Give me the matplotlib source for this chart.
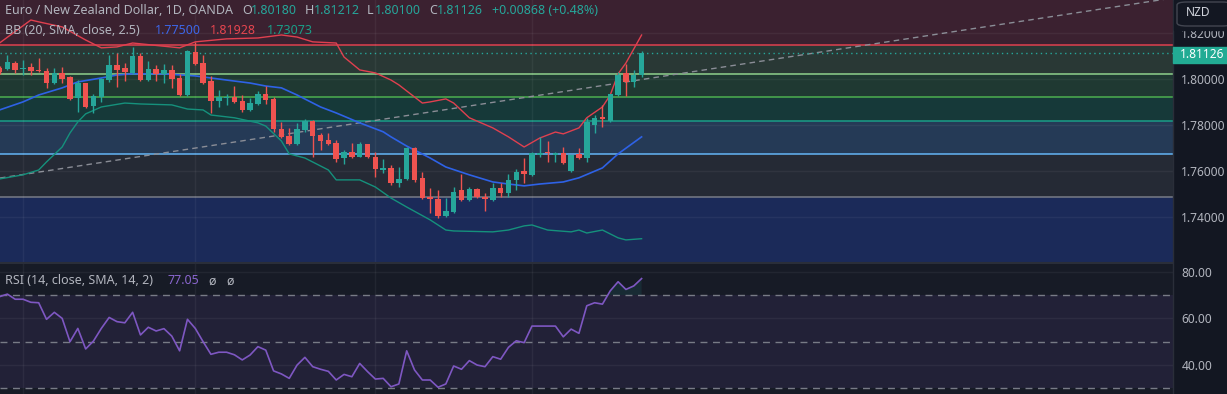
import numpy as np
import matplotlib.pyplot as plt
from matplotlib.patches import Rectangle, FancyBboxPatch
from matplotlib.lines import Line2D

# ---- EUR/NZD daily candles ----
opens = [1.8050, 1.8045, 1.8071, 1.8045, 1.8054, 1.8041, 1.8037, 1.7984, 1.8028, 1.8011,
         1.7919, 1.7984, 1.7884, 1.7924, 1.7997, 1.8063, 1.8050, 1.8028, 1.8102, 1.7997,
         1.8045, 1.8024, 1.8041, 1.8006, 1.7932, 1.8119, 1.8071, 1.7993, 1.7906, 1.7919,
         1.7924, 1.7906, 1.7867, 1.7893, 1.7937, 1.7915, 1.7785, 1.7754, 1.7719, 1.7780,
         1.7820, 1.7759, 1.7737, 1.7724, 1.7658, 1.7684, 1.7663, 1.7719, 1.7663, 1.7606,
         1.7615, 1.7550, 1.7567, 1.7702, 1.7572, 1.7489, 1.7480, 1.7406, 1.7423, 1.7519,
         1.7476, 1.7524, 1.7489, 1.7476, 1.7528, 1.7506, 1.7563, 1.7602, 1.7585, 1.7671,
         1.7684, 1.7671, 1.7680, 1.7602, 1.7676, 1.7658, 1.7802, 1.7837, 1.7820, 1.7932,
         1.8028, 1.7989, 1.8018]
highs = [1.8058, 1.8106, 1.8080, 1.8084, 1.8071, 1.8093, 1.8050, 1.8050, 1.8054, 1.8015,
         1.7997, 1.7986, 1.7937, 1.8006, 1.8106, 1.8115, 1.8071, 1.8141, 1.8115, 1.8080,
         1.8063, 1.8067, 1.8063, 1.8024, 1.8128, 1.8163, 1.8106, 1.8015, 1.7954, 1.7937,
         1.7971, 1.7932, 1.7919, 1.7950, 1.7971, 1.7924, 1.7815, 1.7789, 1.7811, 1.7828,
         1.7824, 1.7767, 1.7767, 1.7737, 1.7693, 1.7724, 1.7728, 1.7719, 1.7684, 1.7654,
         1.7628, 1.7619, 1.7706, 1.7706, 1.7598, 1.7528, 1.7519, 1.7484, 1.7532, 1.7589,
         1.7532, 1.7528, 1.7506, 1.7550, 1.7550, 1.7589, 1.7611, 1.7658, 1.7684, 1.7750,
         1.7732, 1.7684, 1.7706, 1.7671, 1.7702, 1.7833, 1.7845, 1.7889, 1.7937, 1.8032,
         1.8067, 1.8041, 1.81212]
lows = [1.8024, 1.8041, 1.8028, 1.8019, 1.8019, 1.8032, 1.7963, 1.7980, 1.7984, 1.7910,
        1.7858, 1.7876, 1.7854, 1.7902, 1.7989, 1.7967, 1.7993, 1.8024, 1.7993, 1.7993,
        1.7993, 1.7984, 1.7963, 1.7928, 1.7928, 1.8063, 1.7980, 1.7854, 1.7880, 1.7889,
        1.7897, 1.7858, 1.7863, 1.7889, 1.7893, 1.7772, 1.7745, 1.7715, 1.7715, 1.7772,
        1.7663, 1.7693, 1.7715, 1.7641, 1.7632, 1.7658, 1.7663, 1.7658, 1.7576, 1.7593,
        1.7541, 1.7532, 1.7563, 1.7554, 1.7480, 1.7419, 1.7397, 1.7402, 1.7419, 1.7471,
        1.7471, 1.7484, 1.7428, 1.7471, 1.7489, 1.7489, 1.7519, 1.7550, 1.7580, 1.7663,
        1.7641, 1.7641, 1.7632, 1.7598, 1.7654, 1.7641, 1.7767, 1.7793, 1.7815, 1.7928,
        1.7928, 1.7967, 1.8010]
closes = [1.8032, 1.8076, 1.8041, 1.8050, 1.8037, 1.8037, 1.7984, 1.8028, 1.8002, 1.7915,
          1.7984, 1.7880, 1.7928, 1.8002, 1.8063, 1.8041, 1.8032, 1.8102, 1.7997, 1.8045,
          1.8024, 1.8041, 1.8002, 1.7932, 1.8123, 1.8067, 1.7984, 1.7906, 1.7924, 1.7924,
          1.7902, 1.7867, 1.7897, 1.7937, 1.7910, 1.7785, 1.7750, 1.7719, 1.7785, 1.7820,
          1.7754, 1.7732, 1.7719, 1.7654, 1.7684, 1.7663, 1.7719, 1.7663, 1.7611, 1.7615,
          1.7550, 1.7567, 1.7702, 1.7563, 1.7484, 1.7480, 1.7406, 1.7428, 1.7510, 1.7476,
          1.7524, 1.7489, 1.7480, 1.7528, 1.7506, 1.7563, 1.7598, 1.7589, 1.7680, 1.7680,
          1.7678, 1.7680, 1.7637, 1.7671, 1.7658, 1.7815, 1.7833, 1.7828, 1.7937, 1.8019,
          1.7989, 1.8020, 1.81126]

# Bollinger bands (20, 2.5) sampled at candle index
bb_up_idx = [0, 4, 5, 8, 11, 13, 15, 17, 23, 25, 29, 33, 36, 38, 40, 43, 44, 46, 48, 50,
             51, 54, 55, 57, 58, 60, 63, 65, 67, 69, 71, 72, 74, 75, 77, 78, 79, 80, 82]
bb_up = [1.8158, 1.8258, 1.8250, 1.8228, 1.8171, 1.8137, 1.8141, 1.8158, 1.8137, 1.8163,
         1.8176, 1.8180, 1.8193, 1.8184, 1.8163, 1.8158, 1.8097, 1.8041, 1.8028, 1.7997,
         1.7976, 1.7897, 1.7902, 1.7915, 1.7897, 1.7833, 1.7789, 1.7750, 1.7706, 1.7745,
         1.7771, 1.7763, 1.7789, 1.7833, 1.7880, 1.7932, 1.8024, 1.8071, 1.81928]
bb_mid_idx = [0, 3, 5, 8, 10, 13, 15, 17, 21, 25, 27, 29, 32, 34, 36, 38, 41, 43, 46, 49,
              50, 52, 55, 57, 60, 63, 65, 67, 69, 72, 74, 77, 79, 82]
bb_mid = [1.7867, 1.7902, 1.7932, 1.7963, 1.7989, 1.8006, 1.8019, 1.8024, 1.8024, 1.8015,
          1.8006, 1.7997, 1.7984, 1.7971, 1.7963, 1.7932, 1.7880, 1.7854, 1.7811, 1.7772,
          1.7750, 1.7710, 1.7658, 1.7619, 1.7585, 1.7554, 1.7545, 1.7537, 1.7545, 1.7554,
          1.7572, 1.7615, 1.7676, 1.7750]
bb_lo_idx = [0, 3, 5, 6, 8, 9, 10, 11, 13, 16, 18, 22, 24, 26, 27, 30, 33, 34, 36, 37,
             39, 42, 43, 46, 48, 50, 52, 55, 57, 58, 63, 65, 67, 68, 70, 73, 74, 75, 77, 79,
             80, 82]
bb_lo = [1.7567, 1.7585, 1.7606, 1.7641, 1.7706, 1.7767, 1.7815, 1.7850, 1.7880, 1.7897,
         1.7893, 1.7889, 1.7871, 1.7867, 1.7845, 1.7833, 1.7811, 1.7797, 1.7732, 1.7676,
         1.7658, 1.7606, 1.7563, 1.7563, 1.7532, 1.7484, 1.7445, 1.7389, 1.7345, 1.7341,
         1.7337, 1.7345, 1.7363, 1.7367, 1.7345, 1.7337, 1.7345, 1.7332, 1.7345, 1.7311,
         1.7302, 1.73073]

# RSI (14) per candle
rsi = [69.3, 70.4, 68.2, 68.2, 66.9, 66.7, 59.6, 62.6, 60.0, 50.0,
       55.7, 46.9, 50.3, 55.7, 60.4, 58.6, 58.1, 62.6, 52.9, 56.2,
       54.6, 55.6, 52.4, 46.1, 59.6, 55.7, 50.0, 44.6, 45.5, 45.5,
       44.4, 42.2, 44.3, 47.9, 46.4, 37.5, 36.2, 34.3, 40.0, 43.3,
       39.3, 38.2, 37.3, 33.6, 36.0, 35.0, 40.7, 37.2, 34.0, 34.3,
       30.7, 31.9, 46.1, 37.9, 33.6, 33.6, 30.5, 31.9, 39.6, 38.2,
       41.9, 40.0, 39.3, 43.6, 42.5, 47.6, 50.4, 49.6, 56.7, 56.7,
       56.7, 56.7, 52.1, 55.4, 53.6, 65.4, 66.7, 66.1, 71.8, 75.7,
       72.4, 73.9, 77.05]

# fib retracement levels and the drawn trend line
fib_levels = [1.8150, 1.8024, 1.7924, 1.7820, 1.7676, 1.7489]
fib_line_colors = ['#e0404f', '#8fd18d', '#4caf50', '#1a9e88', '#64b5f6', '#787b86']
fib_fill_colors = ['#3b2130', '#293835', '#1f3932', '#163939', '#253a56', '#252a35', '#1b2a59']
trend_x = [0.06, 149.9]
trend_y = [1.7571, 1.8354]

price_ticks = [1.74, 1.76, 1.78, 1.80, 1.82]
rsi_ticks = [40, 60, 80]
month_idx = [3, 25, 48, 68]

BG = '#131722'
TXT = '#b2b5be'
UP = '#26a69a'
DOWN = '#ef5350'
FONT = 'Noto Sans'

W, H = 1227, 394
fig = plt.figure(figsize=(W / 100, H / 100), dpi=100, facecolor=BG)


def fx(x):
    return x / W


def fy(y):
    return 1 - y / H


XL = (0.06, 149.87)
ax = fig.add_axes([0, fy(262), fx(1173), 262 / H])
rx = fig.add_axes([0, 0, fx(1173), fy(264)])

# main pane
YL = (1.7206, 1.8345)
ax.set_xlim(*XL)
ax.set_ylim(*YL)
bounds = [YL[1]] + fib_levels + [YL[0]]
for i, c in enumerate(fib_fill_colors):
    ax.axhspan(bounds[i + 1], bounds[i], color=c, lw=0, zorder=0)
for lv, c in zip(fib_levels, fib_line_colors):
    ax.axhline(lv, color=c, lw=1.1, zorder=1)

ax.set_yticks(price_ticks)
ax.set_xticks(month_idx)
ax.grid(True, color='white', alpha=0.05, lw=1)
ax.set_axisbelow(False)
ax.yaxis.tick_right()
ax.tick_params(axis='y', length=0, pad=6, labelcolor=TXT, labelsize=8.6)
ax.tick_params(axis='x', length=0, labelbottom=False)
ax.yaxis.set_major_formatter(plt.FormatStrFormatter('%.5f'))
for lab in ax.get_yticklabels():
    lab.set_family(FONT)
for s in ax.spines.values():
    s.set_visible(False)

ax.plot(trend_x, trend_y, color='#8a8d96', lw=1.0, ls=(0, (4, 3)), zorder=2)
ax.axhline(closes[-1], color=UP, lw=1, ls=(0, (1, 2.5)), zorder=2)

ax.plot(bb_up_idx, bb_up, color='#e0404f', lw=1.0, zorder=3)
ax.plot(bb_mid_idx, bb_mid, color='#2e62e6', lw=1.2, zorder=3)
ax.plot(bb_lo_idx, bb_lo, color='#15917c', lw=1.0, zorder=3)

o = np.array(opens)
c = np.array(closes)
idx = np.arange(len(o))
cols = np.where(c >= o, UP, DOWN)
ax.vlines(idx, lows, highs, colors=cols, lw=1, zorder=4)
ax.bar(idx, np.maximum(np.abs(c - o), 0.0003), bottom=np.minimum(o, c),
       width=0.7, color=cols, lw=0, zorder=5)

# RSI pane
rx.set_facecolor('#171b26')
rx.set_xlim(*XL)
rx.set_ylim(27.6, 83.3)
rx.axhspan(30, 70, color='#7e57c2', alpha=0.11, lw=0)
for lv in (70, 50, 30):
    rx.axhline(lv, color='#787b86', lw=1, ls=(0, (5, 4)))
r = np.array(rsi)
rx.fill_between(idx, r, 70, where=r >= 70, color=UP, alpha=0.12, lw=0,
                interpolate=True)
rx.plot(idx, r, color='#7e57c2', lw=1.2)
rx.set_yticks(rsi_ticks)
rx.set_xticks(month_idx)
rx.grid(True, color='white', alpha=0.05, lw=1)
rx.yaxis.tick_right()
rx.tick_params(axis='y', length=0, pad=6, labelcolor=TXT, labelsize=8.6)
rx.tick_params(axis='x', length=0, labelbottom=False)
rx.yaxis.set_major_formatter(plt.FormatStrFormatter('%.2f'))
for lab in rx.get_yticklabels():
    lab.set_family(FONT)
for s in rx.spines.values():
    s.set_visible(False)

# price scale decorations
fig.add_artist(Line2D([fx(1173), fx(1173)], [0, 1], color='#2a2e39', lw=1))
fig.add_artist(Line2D([0, fx(1173)], [fy(263), fy(263)], color='#2a2e39', lw=1.5))
fig.patches.append(Rectangle((fx(1174), fy(30)), fx(53), 30 / H, color=BG,
                             transform=fig.transFigure, zorder=5))
fig.patches.append(FancyBboxPatch((fx(1177), fy(26)), fx(55), 24 / H,
                                  boxstyle='round,pad=0,rounding_size=0.008',
                                  fc=BG, ec='#434651', lw=1,
                                  transform=fig.transFigure, zorder=6))
fig.text(fx(1186), fy(13), 'NZD', color='#d1d4dc', fontsize=8.6, family=FONT,
         va='center', weight='bold', zorder=7)
fig.patches.append(Rectangle((fx(1173), fy(63)), fx(54), 16 / H, color='#22ab94',
                             transform=fig.transFigure, zorder=5))
fig.text(fx(1180), fy(55), '1.81126', color='white', fontsize=8.6, family=FONT,
         va='center', weight='bold', zorder=7)


# legend texts
def t(x, y, s, col=TXT):
    fig.text(fx(x), fy(y), s, color=col, fontsize=9, family=FONT, va='center')


t(5, 11, 'Euro / New Zealand Dollar, 1D, OANDA')
t(242, 11, 'O')
t(251, 11, '1.80180', UP)
t(305, 11, 'H')
t(314, 11, '1.81212', UP)
t(367, 11, 'L')
t(375, 11, '1.80100', UP)
t(429, 11, 'C')
t(437, 11, '1.81126', UP)
t(492, 11, '+0.00868 (+0.48%)', UP)
t(5, 30, 'BB (20, SMA, close, 2.5)')
t(155, 30, '1.77500', '#3d66e8')
t(210, 30, '1.81928', '#e5454f')
t(267, 30, '1.73073', '#1a9e88')
t(5, 281, 'RSI (14, close, SMA, 14, 2)')
t(168, 281, '77.05', '#8a66cf')
t(208, 281, 'ø')
t(226, 281, 'ø')

fig.savefig('out.png', dpi=100, facecolor=BG)
